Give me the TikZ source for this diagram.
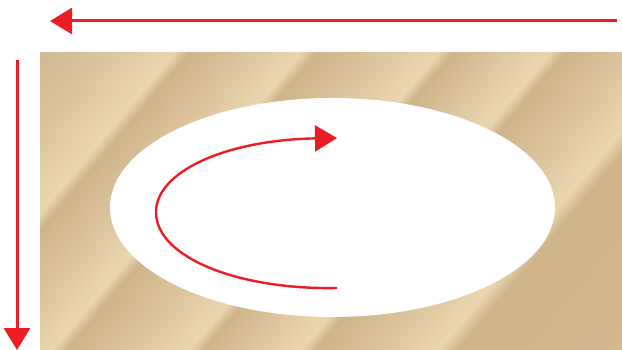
\documentclass[tikz,border=0pt]{standalone}
\usetikzlibrary{arrows.meta,shapes.geometric}
\definecolor{arrowred}{HTML}{ED1C24}
\definecolor{gA}{HTML}{CFB58D}
\definecolor{gB}{HTML}{D0B893}
\definecolor{gC}{HTML}{DBC39D}
\definecolor{gL}{HTML}{EAD6AE}
\definecolor{gD}{HTML}{CFB48A}
\definecolor{gM}{HTML}{DFC7A0}
\definecolor{gE}{HTML}{D2B890}
\pgfdeclarehorizontalshading{goldmetal}{100bp}{%
  color(0bp)=(gA); color(25bp)=(gB); color(29bp)=(gC); color(33.1bp)=(gL);
  color(34bp)=(gD); color(38bp)=(gM); color(40.7bp)=(gL);
  color(41.6bp)=(gD); color(46bp)=(gM); color(48.9bp)=(gL);
  color(49.8bp)=(gD); color(53bp)=(gM); color(55.6bp)=(gL);
  color(56.5bp)=(gD); color(61bp)=(gM); color(63.8bp)=(gL);
  color(65bp)=(gD); color(75bp)=(gE); color(100bp)=(gE)}
\tikzset{
  redarrow/.style={draw=arrowred, line width=3pt,
    -{Triangle[length=22pt,width=26pt]}, arrowred},
  arcarrow/.style={draw=arrowred, line width=2.4pt,
    -{Triangle[length=22pt,width=26pt]}, arrowred},
  hole/.style={ellipse, fill=white, draw=none, inner sep=0pt, outer sep=0pt,
    minimum width=445pt, minimum height=219pt}
}
\begin{document}
\begin{tikzpicture}[x=1pt,y=-1pt]
\useasboundingbox (0,0) rectangle (622,350);
\begin{scope}
  \clip (40,53) rectangle (622,350);
  \begin{scope}[transform canvas={rotate around={-40:(331,201.5)}}]
    \shade[shading=goldmetal] (11,-103.5) rectangle (651,506.5);
  \end{scope}
\end{scope}
\node[hole] (ellipsehole) at (332.5,207.5) {};
% top arrow
\coordinate (topstart) at (617,21);
\coordinate (topend) at (50,21);
\draw[redarrow] (topstart) -- (topend);
% left arrow
\coordinate (leftstart) at (17,60);
\coordinate (leftend) at (17,350);
\draw[redarrow] (leftstart) -- (leftend);
% rotation arrow
\coordinate (arcstart) at (337,288);
\coordinate (arcleft) at (156,212);
\coordinate (arcend) at (337,138);
\draw[arcarrow] (arcstart) .. controls (240,290) and (156,258) .. (arcleft)
  .. controls (156,172) and (225,140) .. (arcend);
\end{tikzpicture}
\end{document}
